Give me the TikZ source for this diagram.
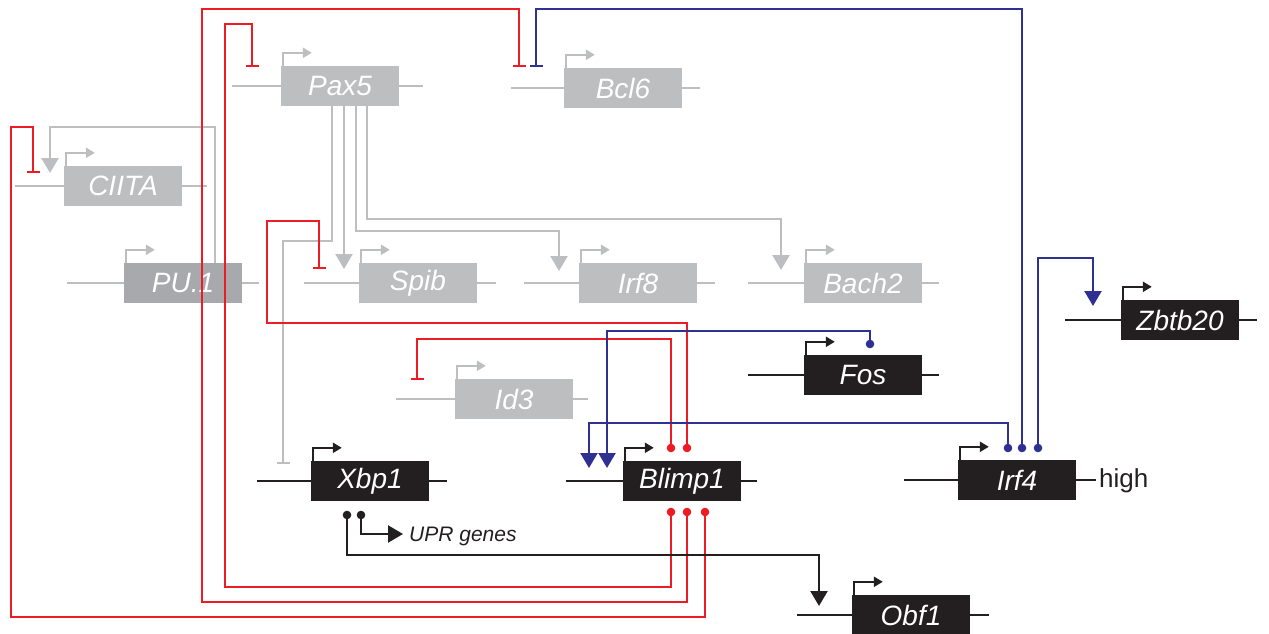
\documentclass[tikz,border=0pt]{standalone}
\usepackage{fontspec}
\setmainfont{Liberation Sans}
\usetikzlibrary{arrows.meta,calc}
\definecolor{gred}{HTML}{ED1C24}
\definecolor{gblue}{HTML}{2E3192}
\definecolor{ggray}{HTML}{BCBEC0}
\definecolor{gdgray}{HTML}{A7A9AC}
\definecolor{gblack}{HTML}{231F20}
\tikzset{
  genebox/.style={rectangle,minimum width=118pt,minimum height=40pt,inner sep=0pt,text=white,font=\fontsize{28}{28}\selectfont\itshape},
  graybox/.style={genebox,fill=ggray},
  pubox/.style={genebox,fill=gdgray},
  blackbox/.style={genebox,fill=gblack},
  conn/.style={line width=2.3pt},
  redc/.style={conn,draw=gred},
  bluec/.style={conn,draw=gblue},
  grayc/.style={conn,draw=ggray},
  blackc/.style={conn,draw=gblack},
  act/.style={-{Triangle[width=17pt,length=15pt]}},
  inh/.style={-{Bar[width=13pt]}},
}
\newcommand\gene[7]{%
  \draw[line width=2.4pt,draw=#5] ($(#2)+(-59-#6,0)$) -- ($(#2)+(59+#7,0)$);
  \node[#4] (#1) at (#2) {#3};
  \draw[line width=2.2pt,draw=#5,-{Triangle[width=10pt,length=9pt]}] ([xshift=2pt]#1.north west) -- ++(0,-13) -- ++(29,0);
}
\newcommand\dotat[2]{\fill[#1] (#2) circle (4.3pt);}
\begin{document}
\begin{tikzpicture}[x=1pt,y=-1pt]
\useasboundingbox (0,0) rectangle (1269,634);
% genes
\gene{pax5}{340,86}{Pax5}{graybox}{ggray}{49}{24}
\gene{bcl6}{623,88}{Bcl6}{graybox}{ggray}{53}{18}
\gene{ciita}{123,186}{CIITA}{graybox}{ggray}{49}{25}
\gene{pu1}{183,283}{PU.1}{pubox}{ggray}{57}{17}
\gene{spib}{418,283}{Spib}{graybox}{ggray}{55}{19}
\gene{irf8}{638,283}{Irf8}{graybox}{ggray}{55}{18}
\gene{bach2}{863,283}{Bach2}{graybox}{ggray}{56}{17}
\gene{zbtb20}{1180,320}{Zbtb20}{blackbox}{gblack}{56}{18}
\gene{fos}{863,375}{Fos}{blackbox}{gblack}{56}{17}
\gene{id3}{514,399}{Id3}{graybox}{ggray}{59}{15}
\gene{xbp1}{370,481}{Xbp1}{blackbox}{gblack}{54}{18}
\gene{blimp1}{682,481}{Blimp1}{blackbox}{gblack}{57}{16}
\gene{irf4}{1017,480}{Irf4}{blackbox}{gblack}{54}{20}
\gene{obf1}{911,615}{Obf1}{blackbox}{gblack}{55}{19}
\node[anchor=west,inner sep=0pt,text=gblack,font=\fontsize{26}{26}\selectfont] (high) at (1099,481) {high};
\node[anchor=west,inner sep=0pt,text=gblack,font=\fontsize{21}{21}\selectfont\itshape] (upr) at (409,536) {UPR genes};
% connector end points
\coordinate (bb1) at (671,512); \coordinate (bb2) at (687,512); \coordinate (bb3) at (705,512);
\coordinate (bt1) at (671,448); \coordinate (bt2) at (687,448);
\coordinate (it1) at (1008,448); \coordinate (it2) at (1022,448); \coordinate (it3) at (1038,448);
\coordinate (fo) at (870,344);
\coordinate (xb1) at (347,515); \coordinate (xb2) at (361,515);
\coordinate (tciita) at (33,173); \coordinate (tbcl6r) at (519,67); \coordinate (tbcl6b) at (536,67);
\coordinate (tpax5) at (252,67); \coordinate (tspib) at (319,269); \coordinate (tid3) at (417,380);
\coordinate (aciita) at (50,173); \coordinate (txbp1) at (283,464); \coordinate (aspib) at (344,269);
\coordinate (airf8) at (559,271); \coordinate (abach2) at (781,270);
\coordinate (azbtb) at (1093,306); \coordinate (ablA) at (589,468); \coordinate (ablB) at (607,468);
\coordinate (aobf1) at (819,606); \coordinate (aupr) at (403,534);
% gray connectors
\draw[grayc,act] (pu1.north -| 215,0) -- (215,127) -- (50,127) -- (aciita);
\draw[grayc,inh] (pax5.south -| 332,0) -- (332,241) -- (283,241) -- (txbp1);
\draw[grayc,act] (pax5.south -| 344,0) -- (aspib);
\draw[grayc,act] (pax5.south -| 356,0) -- (356,231) -- (559,231) -- (airf8);
\draw[grayc,act] (pax5.south -| 367,0) -- (367,219) -- (781,219) -- (abach2);
% red connectors
\draw[redc,inh] (bb3) -- (705,617) -- (11,617) -- (11,127) -- (33,127) -- (tciita);
\draw[redc,inh] (bb2) -- (687,602) -- (202,602) -- (202,9) -- (519,9) -- (tbcl6r);
\draw[redc,inh] (bb1) -- (671,587) -- (225,587) -- (225,24) -- (252,24) -- (tpax5);
\draw[redc,inh] (bt2) -- (687,323) -- (267,323) -- (267,221) -- (319,221) -- (tspib);
\draw[redc,inh] (bt1) -- (671,339) -- (417,339) -- (tid3);
\foreach \p in {bb1,bb2,bb3,bt1,bt2} {\dotat{gred}{\p}}
% blue connectors
\draw[bluec,act] (it3) -- (1038,258) -- (1093,258) -- (azbtb);
\draw[bluec,inh] (it2) -- (1022,9) -- (536,9) -- (tbcl6b);
\draw[bluec,act] (it1) -- (1008,423) -- (589,423) -- (ablA);
\draw[bluec,act] (fo) -- (870,331) -- (607,331) -- (ablB);
\foreach \p in {it1,it2,it3,fo} {\dotat{gblue}{\p}}
% black connectors
\draw[blackc,act] (xb2) -- (361,534) -- (aupr);
\draw[blackc,act] (xb1) -- (347,555) -- (819,555) -- (aobf1);
\foreach \p in {xb1,xb2} {\dotat{gblack}{\p}}
\end{tikzpicture}
\end{document}
